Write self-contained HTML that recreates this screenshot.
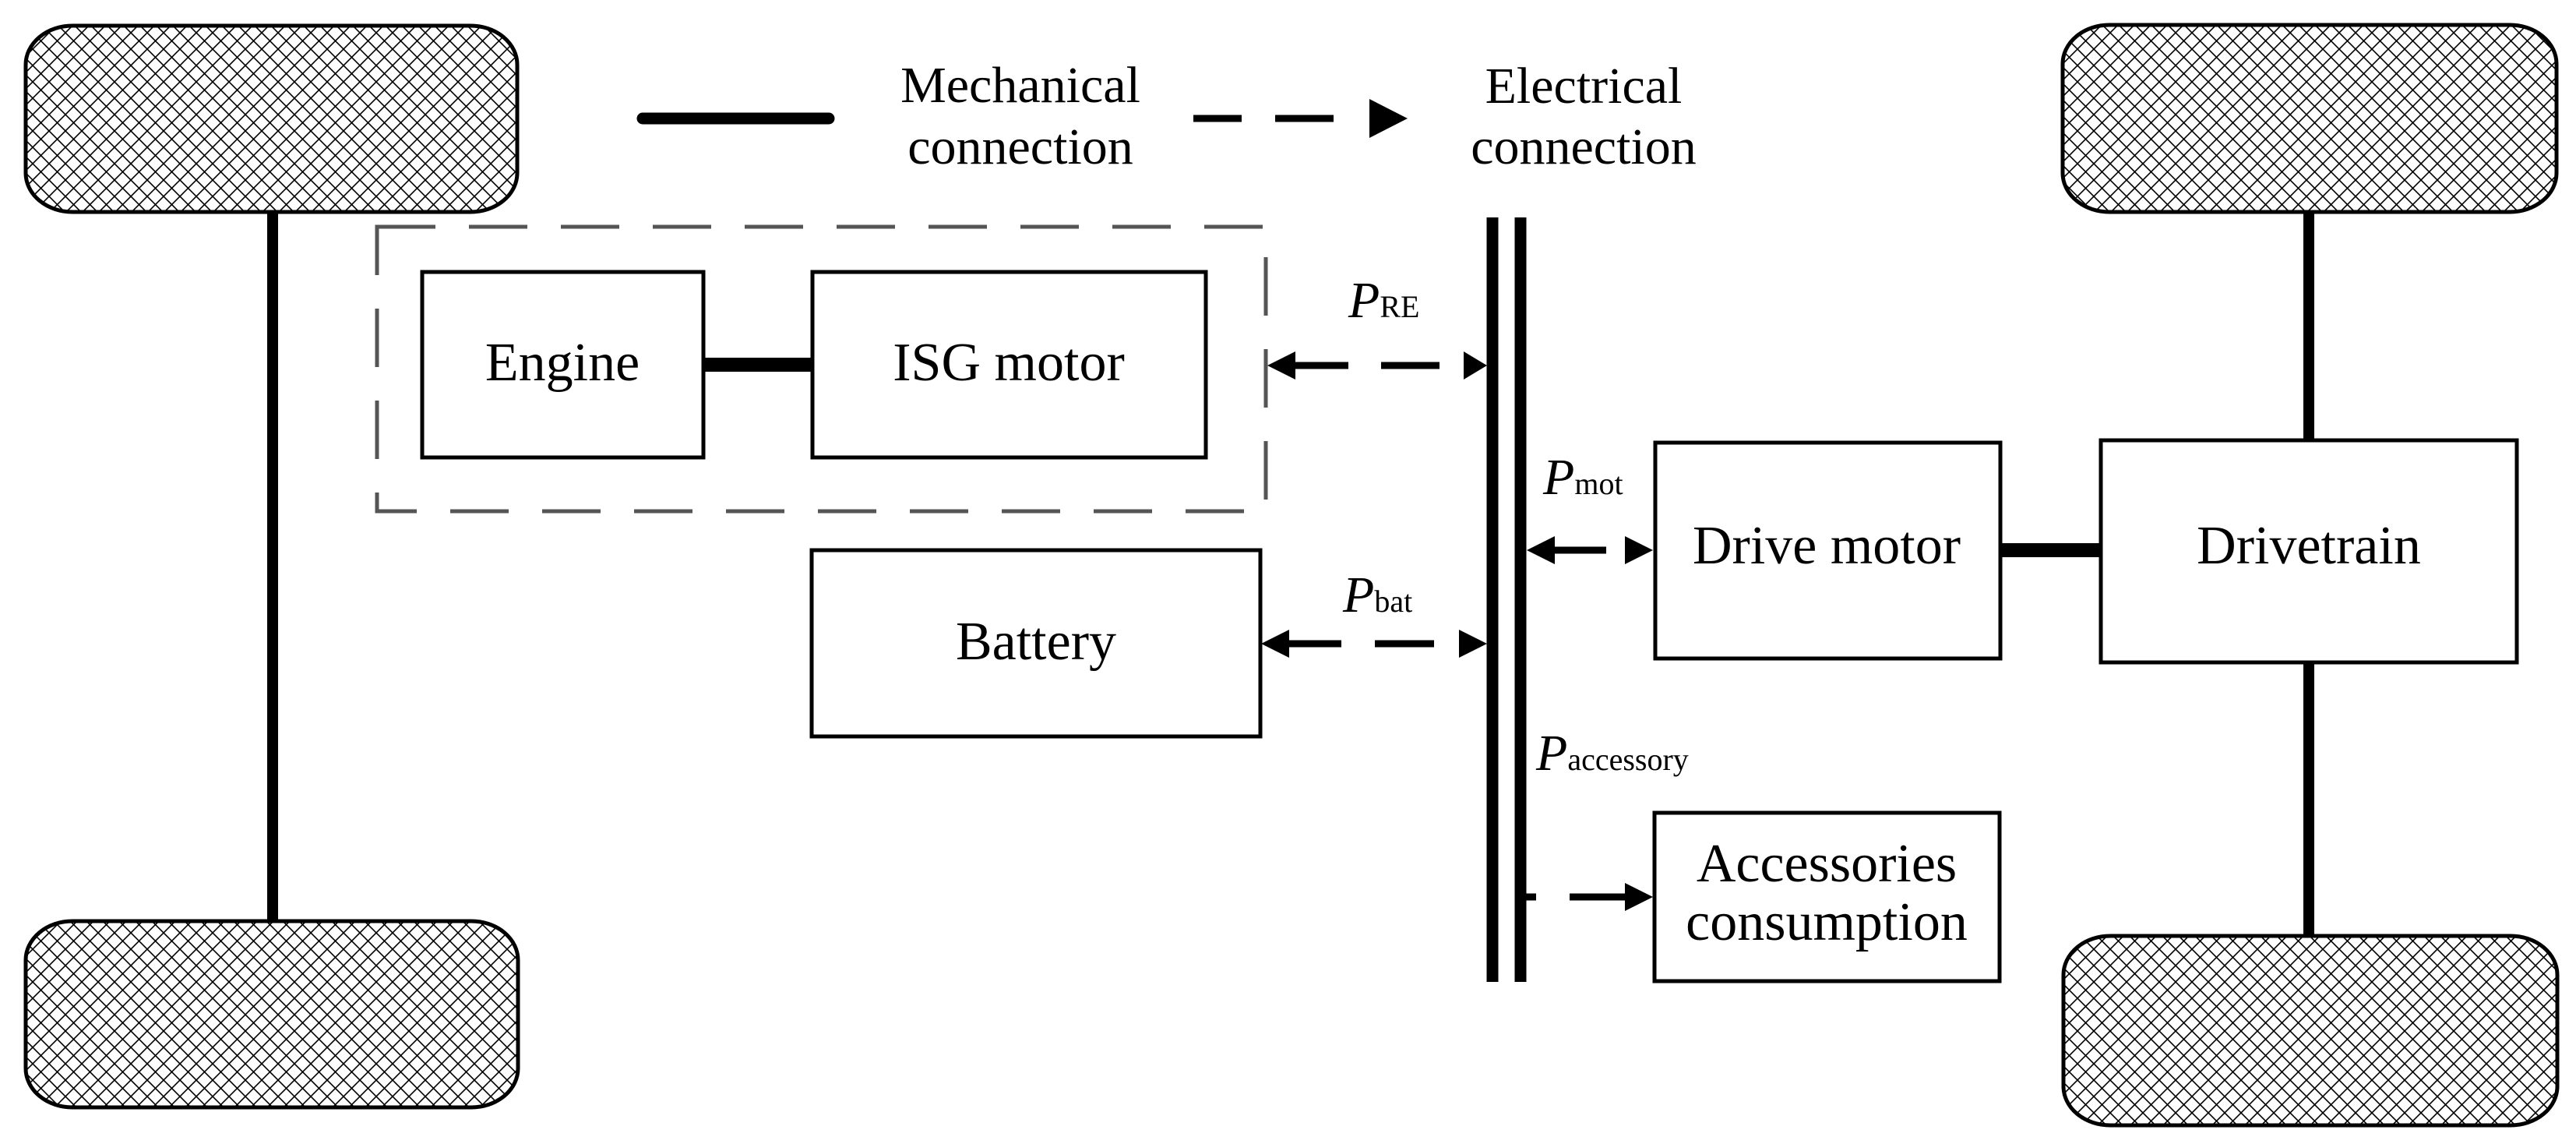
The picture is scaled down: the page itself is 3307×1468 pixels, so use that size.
<!DOCTYPE html>
<html><head><meta charset="utf-8"><style>
html,body{margin:0;padding:0;background:#fff;}
svg{display:block;}
text{font-family:"Liberation Serif",serif;fill:#000;}
</style></head><body>
<svg width="3307" height="1468" viewBox="0 0 3307 1468" xmlns="http://www.w3.org/2000/svg">
<defs>
<pattern id="h" width="21" height="21" patternUnits="userSpaceOnUse">
<rect width="21" height="21" fill="#fff"/>
<path d="M0,0 L21,21 M21,0 L0,21 M-2,19 L2,23 M19,-2 L23,2 M19,23 L23,19 M-2,2 L2,-2" stroke="#000" stroke-width="1.6"/>
</pattern>
<marker id="ae" viewBox="0 0 10 10" refX="10" refY="5" markerWidth="36" markerHeight="37" markerUnits="userSpaceOnUse" orient="auto"><path d="M0,0 L10,5 L0,10 z" fill="#000"/></marker>
<marker id="as" viewBox="0 0 10 10" refX="0" refY="5" markerWidth="36" markerHeight="37" markerUnits="userSpaceOnUse" orient="auto"><path d="M10,0 L0,5 L10,10 z" fill="#000"/></marker>
</defs>

<!-- wheels -->
<rect x="33" y="33" width="631" height="239" rx="60" ry="50" fill="url(#h)" stroke="#000" stroke-width="5"/>
<rect x="33" y="1182" width="632" height="239" rx="60" ry="50" fill="url(#h)" stroke="#000" stroke-width="5"/>
<rect x="2648" y="32" width="634" height="240" rx="60" ry="50" fill="url(#h)" stroke="#000" stroke-width="5"/>
<rect x="2649" y="1201" width="634" height="243" rx="60" ry="50" fill="url(#h)" stroke="#000" stroke-width="5"/>

<!-- axles -->
<line x1="350" y1="272" x2="350" y2="1182" stroke="#000" stroke-width="14"/>
<line x1="2964" y1="272" x2="2964" y2="565" stroke="#000" stroke-width="14"/>
<line x1="2964" y1="850" x2="2964" y2="1201" stroke="#000" stroke-width="14"/>

<!-- legend -->
<line x1="825" y1="152" x2="1064" y2="152" stroke="#000" stroke-width="15" stroke-linecap="round"/>
<text x="1310" y="131" font-size="66" text-anchor="middle">Mechanical</text>
<text x="1310" y="210" font-size="66" text-anchor="middle">connection</text>
<line x1="1532" y1="152" x2="1594" y2="152" stroke="#000" stroke-width="9"/>
<line x1="1637" y1="152" x2="1712" y2="152" stroke="#000" stroke-width="9"/>
<path d="M1758,127 L1807,152 L1758,177 z" fill="#000"/>
<text x="2033" y="132" font-size="66" text-anchor="middle">Electrical</text>
<text x="2033" y="210" font-size="66" text-anchor="middle">connection</text>

<!-- dashed group -->
<rect x="484" y="291" width="1141" height="365" fill="none" stroke="#555" stroke-width="5" stroke-dasharray="75 43"/>

<!-- boxes -->
<rect x="542" y="349" width="361" height="238" fill="#fff" stroke="#000" stroke-width="5"/>
<text x="722" y="488" font-size="70" text-anchor="middle">Engine</text>
<rect x="1043" y="349" width="505" height="238" fill="#fff" stroke="#000" stroke-width="5"/>
<text x="1295" y="488" font-size="70" text-anchor="middle">ISG motor</text>
<line x1="903" y1="468" x2="1043" y2="468" stroke="#000" stroke-width="18"/>

<rect x="1042" y="706" width="576" height="239" fill="#fff" stroke="#000" stroke-width="5"/>
<text x="1330" y="846" font-size="70" text-anchor="middle">Battery</text>

<rect x="2125" y="568" width="443" height="277" fill="#fff" stroke="#000" stroke-width="5"/>
<text x="2345" y="723" font-size="70" text-anchor="middle">Drive motor</text>
<rect x="2697" y="565" width="534" height="285" fill="#fff" stroke="#000" stroke-width="5"/>
<text x="2964" y="723" font-size="70" text-anchor="middle">Drivetrain</text>
<line x1="2568" y1="706" x2="2697" y2="706" stroke="#000" stroke-width="18"/>

<rect x="2124" y="1043" width="443" height="216" fill="#fff" stroke="#000" stroke-width="5"/>
<text x="2345" y="1131" font-size="70" text-anchor="middle">Accessories</text>
<text x="2345" y="1206" font-size="70" text-anchor="middle">consumption</text>

<!-- bus -->
<line x1="1916" y1="279" x2="1916" y2="1260" stroke="#000" stroke-width="15"/>
<line x1="1952" y1="279" x2="1952" y2="1260" stroke="#000" stroke-width="15"/>

<!-- PRE arrow -->
<path d="M1627,469 L1663,451 L1663,487 z" fill="#000"/>
<line x1="1660" y1="469" x2="1731" y2="469" stroke="#000" stroke-width="9"/>
<line x1="1773" y1="469" x2="1848" y2="469" stroke="#000" stroke-width="9"/>
<path d="M1909,469 L1879,451 L1879,487 z" fill="#000"/>
<text x="1731" y="407" font-size="66" font-style="italic">P<tspan font-size="40" font-style="normal">RE</tspan></text>

<!-- Pbat arrow -->
<path d="M1619,826 L1655,808 L1655,844 z" fill="#000"/>
<line x1="1652" y1="826" x2="1722" y2="826" stroke="#000" stroke-width="9"/>
<line x1="1765" y1="826" x2="1841" y2="826" stroke="#000" stroke-width="9"/>
<path d="M1909,826 L1873,808 L1873,844 z" fill="#000"/>
<text x="1724" y="785" font-size="66" font-style="italic">P<tspan font-size="40" font-style="normal">bat</tspan></text>

<!-- Pmot arrow -->
<path d="M1960,706 L1996,688 L1996,724 z" fill="#000"/>
<line x1="1993" y1="706" x2="2062" y2="706" stroke="#000" stroke-width="9"/>
<path d="M2122,706 L2086,688 L2086,724 z" fill="#000"/>
<text x="1981" y="634" font-size="66" font-style="italic">P<tspan font-size="40" font-style="normal">mot</tspan></text>

<!-- Paccessory arrow -->
<line x1="1959" y1="1151" x2="1972" y2="1151" stroke="#000" stroke-width="9"/>
<line x1="2015" y1="1151" x2="2088" y2="1151" stroke="#000" stroke-width="9"/>
<path d="M2122,1151 L2086,1133 L2086,1169 z" fill="#000"/>
<text x="1972" y="988" font-size="66" font-style="italic">P<tspan font-size="40" font-style="normal">accessory</tspan></text>
</svg>
</body></html>
